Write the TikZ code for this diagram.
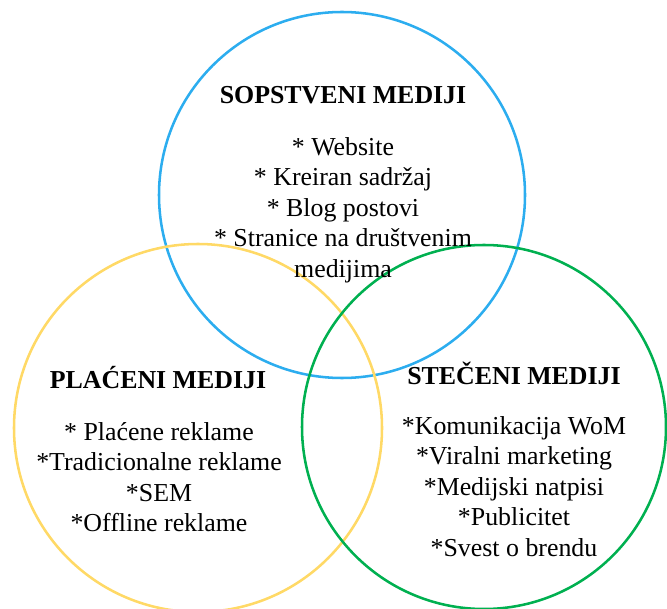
\documentclass[tikz,border=0pt]{standalone}
\usepackage{fontspec}
\setmainfont{Liberation Serif}
\definecolor{plava}{HTML}{2CADEF}
\definecolor{zuta}{HTML}{FFD966}
\definecolor{zelena}{HTML}{00B050}
\usetikzlibrary{positioning}
\begin{document}
\begin{tikzpicture}[x=0.75pt,y=-0.75pt,
  krug/.style={line width=1.9pt},
  naslov/.style={font=\fontsize{19.4}{22.9}\selectfont\bfseries,inner sep=0pt,anchor=base},
  stavke/.style={font=\fontsize{19.4}{22.9}\selectfont,align=center,inner sep=0pt,anchor=north}]
\useasboundingbox (0,0) rectangle (667,609);
% krugovi
\draw[krug,plava] (342,195) circle (183);
\draw[krug,zuta] (198,428) circle (184);
\draw[krug,zelena] (484,427) circle (182);
% tekstovi
\node[naslov] (sopstveni) at (343,104) {SOPSTVENI MEDIJI};
\node[stavke] (sopstveniL) at (343,137) {* Website\\* Kreiran sadržaj\\* Blog postovi\\* Stranice na društvenim\\medijima};
\node[naslov] (placeni) at (158,388) {PLAĆENI MEDIJI};
\node[stavke] (placeniL) at (159,422) {* Plaćene reklame\\*Tradicionalne reklame\\*SEM\\*Offline reklame};
\node[naslov] (steceni) at (514,384) {STEČENI MEDIJI};
\node[stavke] (steceniL) at (514,416) {*Komunikacija WoM\\*Viralni marketing\\*Medijski natpisi\\*Publicitet\\*Svest o brendu};
\end{tikzpicture}
\end{document}
